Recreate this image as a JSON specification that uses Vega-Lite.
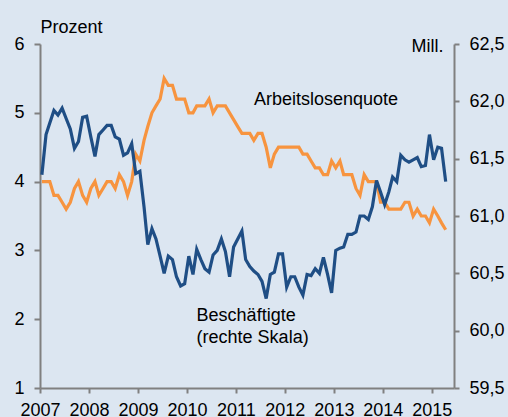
{
  "$schema": "https://vega.github.io/schema/vega-lite/v6.json",
  "width": 414,
  "height": 344,
  "autosize": {"type": "none"},
  "padding": {"left": 40, "top": 44, "right": 54, "bottom": 29},
  "background": "#dce6f1",
  "config": {
    "view": {"stroke": null},
    "font": "Liberation Sans",
    "locale": {"number": {"decimal": ",", "thousands": ".", "grouping": [3], "currency": ["", " €"]}},
    "axis": {
      "domainColor": "#808080", "domainWidth": 2, "tickColor": "#808080", "tickWidth": 2,
      "grid": false, "labelFont": "Liberation Sans", "labelFontSize": 18, "labelColor": "#000000",
      "titleFont": "Liberation Sans", "titleFontSize": 18, "titleFontWeight": "normal", "titleColor": "#000000"
    }
  },
  "data": {"values": [
    {"date": "2007-01-15", "quote": 4.0, "besch": 61.36},
    {"date": "2007-02-15", "quote": 4.0, "besch": 61.71},
    {"date": "2007-03-15", "quote": 4.0, "besch": 61.81},
    {"date": "2007-04-15", "quote": 3.8, "besch": 61.92},
    {"date": "2007-05-15", "quote": 3.8, "besch": 61.88},
    {"date": "2007-06-15", "quote": 3.7, "besch": 61.94},
    {"date": "2007-07-15", "quote": 3.6, "besch": 61.85},
    {"date": "2007-08-15", "quote": 3.7, "besch": 61.76},
    {"date": "2007-09-15", "quote": 3.9, "besch": 61.59},
    {"date": "2007-10-15", "quote": 4.0, "besch": 61.65},
    {"date": "2007-11-15", "quote": 3.8, "besch": 61.86},
    {"date": "2007-12-15", "quote": 3.7, "besch": 61.87},
    {"date": "2008-01-15", "quote": 3.9, "besch": 61.69},
    {"date": "2008-02-15", "quote": 4.0, "besch": 61.52},
    {"date": "2008-03-15", "quote": 3.8, "besch": 61.71},
    {"date": "2008-04-15", "quote": 3.9, "besch": 61.75},
    {"date": "2008-05-15", "quote": 4.0, "besch": 61.79},
    {"date": "2008-06-15", "quote": 4.0, "besch": 61.79},
    {"date": "2008-07-15", "quote": 3.9, "besch": 61.69},
    {"date": "2008-08-15", "quote": 4.1, "besch": 61.67},
    {"date": "2008-09-15", "quote": 4.0, "besch": 61.53},
    {"date": "2008-10-15", "quote": 3.8, "besch": 61.55},
    {"date": "2008-11-15", "quote": 4.0, "besch": 61.63},
    {"date": "2008-12-15", "quote": 4.4, "besch": 61.37},
    {"date": "2009-01-15", "quote": 4.3, "besch": 61.39},
    {"date": "2009-02-15", "quote": 4.6, "besch": 61.08},
    {"date": "2009-03-15", "quote": 4.8, "besch": 60.75},
    {"date": "2009-04-15", "quote": 5.0, "besch": 60.89},
    {"date": "2009-05-15", "quote": 5.1, "besch": 60.80},
    {"date": "2009-06-15", "quote": 5.2, "besch": 60.65},
    {"date": "2009-07-15", "quote": 5.5, "besch": 60.50},
    {"date": "2009-08-15", "quote": 5.4, "besch": 60.65},
    {"date": "2009-09-15", "quote": 5.4, "besch": 60.62},
    {"date": "2009-10-15", "quote": 5.2, "besch": 60.47},
    {"date": "2009-11-15", "quote": 5.2, "besch": 60.39},
    {"date": "2009-12-15", "quote": 5.2, "besch": 60.41},
    {"date": "2010-01-15", "quote": 5.0, "besch": 60.65},
    {"date": "2010-02-15", "quote": 5.0, "besch": 60.49},
    {"date": "2010-03-15", "quote": 5.1, "besch": 60.71},
    {"date": "2010-04-15", "quote": 5.1, "besch": 60.62},
    {"date": "2010-05-15", "quote": 5.1, "besch": 60.54},
    {"date": "2010-06-15", "quote": 5.2, "besch": 60.51},
    {"date": "2010-07-15", "quote": 5.0, "besch": 60.66},
    {"date": "2010-08-15", "quote": 5.1, "besch": 60.70},
    {"date": "2010-09-15", "quote": 5.1, "besch": 60.80},
    {"date": "2010-10-15", "quote": 5.1, "besch": 60.69},
    {"date": "2010-11-15", "quote": 5.0, "besch": 60.47},
    {"date": "2010-12-15", "quote": 4.9, "besch": 60.73},
    {"date": "2011-01-15", "quote": 4.8, "besch": 60.80},
    {"date": "2011-02-15", "quote": 4.7, "besch": 60.87},
    {"date": "2011-03-15", "quote": 4.7, "besch": 60.62},
    {"date": "2011-04-15", "quote": 4.7, "besch": 60.56},
    {"date": "2011-05-15", "quote": 4.6, "besch": 60.52},
    {"date": "2011-06-15", "quote": 4.7, "besch": 60.49},
    {"date": "2011-07-15", "quote": 4.7, "besch": 60.43},
    {"date": "2011-08-15", "quote": 4.5, "besch": 60.28},
    {"date": "2011-09-15", "quote": 4.2, "besch": 60.49},
    {"date": "2011-10-15", "quote": 4.4, "besch": 60.51},
    {"date": "2011-11-15", "quote": 4.5, "besch": 60.67},
    {"date": "2011-12-15", "quote": 4.5, "besch": 60.67},
    {"date": "2012-01-15", "quote": 4.5, "besch": 60.38},
    {"date": "2012-02-15", "quote": 4.5, "besch": 60.47},
    {"date": "2012-03-15", "quote": 4.5, "besch": 60.47},
    {"date": "2012-04-15", "quote": 4.5, "besch": 60.38},
    {"date": "2012-05-15", "quote": 4.4, "besch": 60.31},
    {"date": "2012-06-15", "quote": 4.4, "besch": 60.49},
    {"date": "2012-07-15", "quote": 4.3, "besch": 60.48},
    {"date": "2012-08-15", "quote": 4.2, "besch": 60.54},
    {"date": "2012-09-15", "quote": 4.2, "besch": 60.50},
    {"date": "2012-10-15", "quote": 4.1, "besch": 60.64},
    {"date": "2012-11-15", "quote": 4.1, "besch": 60.49},
    {"date": "2012-12-15", "quote": 4.3, "besch": 60.33},
    {"date": "2013-01-15", "quote": 4.2, "besch": 60.70},
    {"date": "2013-02-15", "quote": 4.3, "besch": 60.72},
    {"date": "2013-03-15", "quote": 4.1, "besch": 60.73},
    {"date": "2013-04-15", "quote": 4.1, "besch": 60.84},
    {"date": "2013-05-15", "quote": 4.1, "besch": 60.84},
    {"date": "2013-06-15", "quote": 3.9, "besch": 60.86},
    {"date": "2013-07-15", "quote": 3.8, "besch": 61.00},
    {"date": "2013-08-15", "quote": 4.1, "besch": 61.00},
    {"date": "2013-09-15", "quote": 4.0, "besch": 60.97},
    {"date": "2013-10-15", "quote": 4.0, "besch": 61.08},
    {"date": "2013-11-15", "quote": 4.0, "besch": 61.31},
    {"date": "2013-12-15", "quote": 3.7, "besch": 61.21},
    {"date": "2014-01-15", "quote": 3.7, "besch": 61.10},
    {"date": "2014-02-15", "quote": 3.6, "besch": 61.21},
    {"date": "2014-03-15", "quote": 3.6, "besch": 61.34},
    {"date": "2014-04-15", "quote": 3.6, "besch": 61.30},
    {"date": "2014-05-15", "quote": 3.6, "besch": 61.53},
    {"date": "2014-06-15", "quote": 3.7, "besch": 61.49},
    {"date": "2014-07-15", "quote": 3.7, "besch": 61.47},
    {"date": "2014-08-15", "quote": 3.5, "besch": 61.49},
    {"date": "2014-09-15", "quote": 3.6, "besch": 61.51},
    {"date": "2014-10-15", "quote": 3.5, "besch": 61.43},
    {"date": "2014-11-15", "quote": 3.5, "besch": 61.44},
    {"date": "2014-12-15", "quote": 3.4, "besch": 61.71},
    {"date": "2015-01-15", "quote": 3.6, "besch": 61.49},
    {"date": "2015-02-15", "quote": 3.5, "besch": 61.60},
    {"date": "2015-03-15", "quote": 3.4, "besch": 61.59},
    {"date": "2015-04-15", "quote": 3.3, "besch": 61.30}
  ]},
  "layer": [
    {
      "layer": [
        {
          "mark": {"type": "line", "color": "#f7943f", "strokeWidth": 3.2, "strokeJoin": "miter"},
          "encoding": {
            "x": {
              "field": "date", "type": "temporal",
              "scale": {"type": "utc", "domain": [{"year": 2007, "month": 1, "date": 1, "utc": true}, {"year": 2015, "month": 6, "date": 16, "utc": true}]},
              "axis": {"format": "%Y", "tickCount": {"interval": "year", "step": 1}, "title": null, "tickSize": 5, "labelPadding": 8, "labelFlush": false, "labelOverlap": false}
            },
            "y": {
              "field": "quote", "type": "quantitative",
              "scale": {"domain": [1, 6], "nice": false, "zero": false},
              "axis": {"values": [1, 2, 3, 4, 5, 6], "format": "d", "title": "Prozent", "titleAngle": 0, "titleX": 0, "titleY": -12, "titleAlign": "left", "titleBaseline": "alphabetic", "tickSize": 6, "labelPadding": 10}
            }
          }
        },
        {
          "data": {"values": [
            {"label": "Arbeitslosenquote", "date": "2011-05-16", "quote": 5.19},
            {"label": "Beschäftigte", "date": "2010-03-14", "quote": 2.05},
            {"label": "(rechte Skala)", "date": "2010-03-14", "quote": 1.72}
          ]},
          "mark": {"type": "text", "align": "left", "baseline": "middle", "fontSize": 18, "font": "Liberation Sans", "color": "#000000"},
          "encoding": {
            "x": {"field": "date", "type": "temporal"},
            "y": {
              "field": "quote", "type": "quantitative",
              "scale": {"domain": [1, 6], "nice": false, "zero": false},
              "axis": {"values": [1, 2, 3, 4, 5, 6], "format": "d", "title": "Prozent", "titleAngle": 0, "titleX": 0, "titleY": -12, "titleAlign": "left", "titleBaseline": "alphabetic", "tickSize": 6, "labelPadding": 10}
            },
            "text": {"field": "label"}
          }
        }
      ]
    },
    {
      "mark": {"type": "line", "color": "#1f4e85", "strokeWidth": 3.2, "strokeJoin": "miter"},
      "encoding": {
        "x": {"field": "date", "type": "temporal"},
        "y": {
          "field": "besch", "type": "quantitative",
          "scale": {"domain": [59.5, 62.5], "nice": false, "zero": false},
          "axis": {"orient": "right", "values": [59.5, 60, 60.5, 61, 61.5, 62, 62.5], "format": ".1f", "title": "Mill.", "titleAngle": 0, "titleX": -11, "titleY": 7, "titleAlign": "right", "titleBaseline": "alphabetic", "tickSize": 5, "labelPadding": 10}
        }
      }
    }
  ],
  "resolve": {"scale": {"y": "independent"}}
}
